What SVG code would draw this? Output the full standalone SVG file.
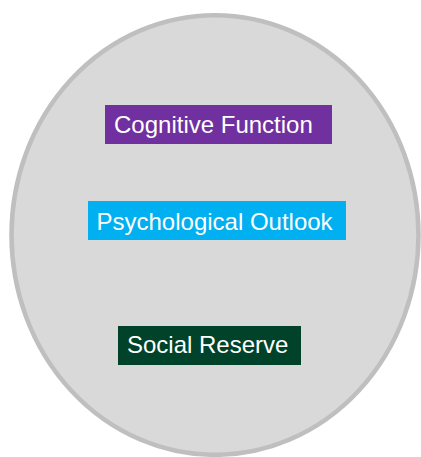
<svg xmlns="http://www.w3.org/2000/svg" width="421" height="457" viewBox="0 0 421 457">
  <style>
    .label { font-family: "Liberation Sans", Arial, sans-serif; font-size: 24px; fill: #ffffff; }
  </style>
  <rect width="421" height="457" fill="#ffffff"/>
  <!-- enclosing oval -->
  <g id="container">
    <ellipse cx="215" cy="235" rx="203.5" ry="219.8" fill="#d9d9d9" stroke="#bfbfbf" stroke-width="4.5"/>
  </g>
  <g id="connectors"></g>
  <g id="cognitive-function">
    <rect x="105" y="105" width="227" height="39" fill="#7030a0"/>
    <text class="label" x="114" y="132.5">Cognitive Function</text>
  </g>
  <g id="psychological-outlook">
    <rect x="88" y="201" width="258" height="39" fill="#00b0f0"/>
    <text class="label" x="96.5" y="230">Psychological Outlook</text>
  </g>
  <g id="social-reserve">
    <rect x="118" y="326" width="183" height="39" fill="#00432a"/>
    <text class="label" x="127" y="352.8">Social Reserve</text>
  </g>
</svg>
